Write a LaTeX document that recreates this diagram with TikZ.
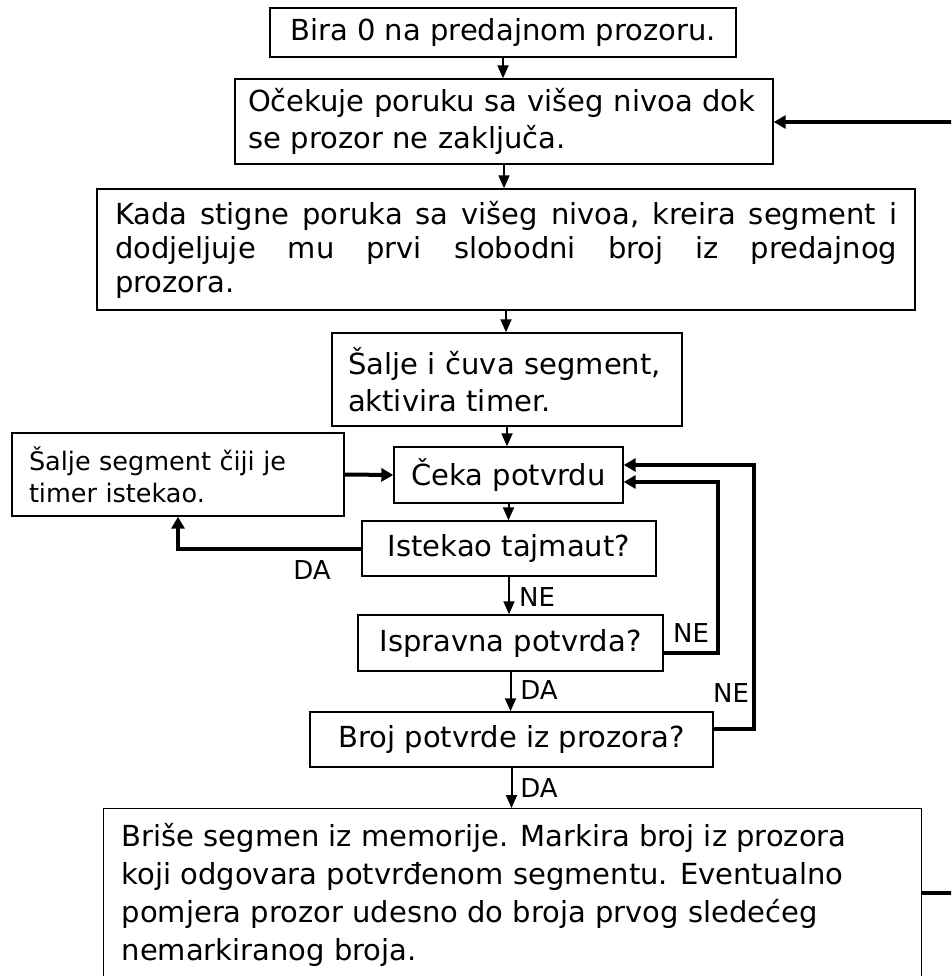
\documentclass[tikz,border=0pt]{standalone}
\usepackage{fontspec}
\setmainfont{DejaVu Sans}
\usetikzlibrary{arrows.meta}
\begin{document}
\begin{tikzpicture}[x=1pt,y=-1pt,
  box/.style={draw=black, line width=1.4pt, inner sep=0pt, font=\fontsize{29}{37}\selectfont},
  smallbox/.style={box, font=\fontsize{25.5}{32}\selectfont},
  thinarrow/.style={line width=2pt, -{Triangle[length=13pt,width=11pt]}},
  thickarrow/.style={line width=4pt, -{Triangle[length=12pt,width=13pt]}},
  thickline/.style={line width=4pt},
  lbl/.style={font=\fontsize{26}{30}\selectfont, inner sep=0pt}]
\clip (0,0) rectangle (951,976);
\fill[white] (0,0) rectangle (951,976);

\node[box, minimum width=466pt, minimum height=49pt] (b1) at (503,32.5) {Bira 0 na predajnom prozoru.};
\node[box, minimum width=538pt, minimum height=85pt, text width=512pt, align=left] (b2) at (504,121.5)
  {Očekuje poruku sa višeg nivoa dok\\se prozor ne zaključa.};
\node[box, minimum width=818pt, minimum height=121pt, text width=782pt, align=left,
      font=\fontsize{29}{34}\selectfont] (b3) at (506,249.5)
  {\leavevmode\hbox to 782pt{Kada\hfill stigne\hfill poruka\hfill sa\hfill višeg\hfill nivoa,\hfill kreira\hfill segment\hfill i}\\
   \leavevmode\hbox to 782pt{dodjeljuje\hfill mu\hfill prvi\hfill slobodni\hfill broj\hfill iz\hfill predajnog}\\
   prozora.};
\node[box, minimum width=350pt, minimum height=93pt, text width=318pt, align=left] (b4) at (507,379.5)
  {Šalje i čuva segment,\\aktivira timer.};
\node[box, minimum width=229pt, minimum height=56pt] (b5) at (508.5,475) {Čeka potvrdu};
\node[smallbox, minimum width=332pt, minimum height=83pt, text width=298pt, align=left] (b6) at (178,474.5)
  {Šalje segment čiji je\\timer istekao.};
\node[box, minimum width=294pt, minimum height=55pt] (b7) at (509,548.5) {Istekao tajmaut?};
\node[box, minimum width=305pt, minimum height=56pt] (b8) at (510.5,643) {Ispravna potvrda?};
\node[box, minimum width=403pt, minimum height=55pt] (b9) at (511.5,739.5) {Broj potvrde iz prozora?};
\node[box, anchor=north west, inner xsep=18pt, inner ysep=0pt, font=\fontsize{29}{38}\selectfont] (b10) at (103,808)
  {\parbox[c][200pt][t]{782pt}{\vspace*{15pt}Briše segmen iz memorije. Markira broj iz prozora\\
   koji odgovara potvrđenom segmentu. Eventualno\\
   pomjera prozor udesno do broja prvog sledećeg\\
   nemarkiranog broja.}};

% main vertical flow
\draw[thinarrow] (b1.south) -- (b1.south |- b2.north);
\draw[thinarrow] (b2.south) -- (b2.south |- b3.north);
\draw[thinarrow] (b3.south) -- (b3.south |- b4.north);
\draw[thinarrow] (b4.south) -- (b4.south |- b5.north);
\draw[thinarrow] (b5.south) -- (b5.south |- b7.north);
\draw[thinarrow] (b7.south) -- (b7.south |- b8.north);
\draw[thinarrow] (b8.south) -- (b8.south |- b9.north);
\draw[thinarrow] (b9.south) -- (b9.south |- b10.north);

% labels on the flow
\node[lbl] (ne1) at (537,597) {NE};
\node[lbl] (da1) at (539,690) {DA};
\node[lbl] (da2) at (539,788) {DA};

% timeout branch
\draw[thickarrow] (b7.west) -| (b6.south);
\node[lbl] (da0) at (312,570) {DA};
\draw[thickarrow] (b6.east) -- (b5.west);

% loops back to "Čeka potvrdu"
\coordinate (i1) at (718,653);
\coordinate (i2) at (718,482);
\draw[thickarrow] (b8.east |- i1) -- (i1) -- (i2) -- (b5.east |- i2);
\node[lbl] (ne2) at (691,633) {NE};

\coordinate (o1) at (754,729);
\coordinate (o2) at (754,465);
\draw[thickarrow] (b9.east |- o1) -- (o1) -- (o2) -- (b5.east |- o2);
\node[lbl] (ne3) at (731,693) {NE};

% lines leaving the picture on the right
\coordinate (r1) at (965,122);
\draw[thickarrow] (r1) -- (b2.east |- r1);
\coordinate (r2) at (965,893);
\draw[thickline] (b10.east |- r2) -- (r2);
\end{tikzpicture}
\end{document}
